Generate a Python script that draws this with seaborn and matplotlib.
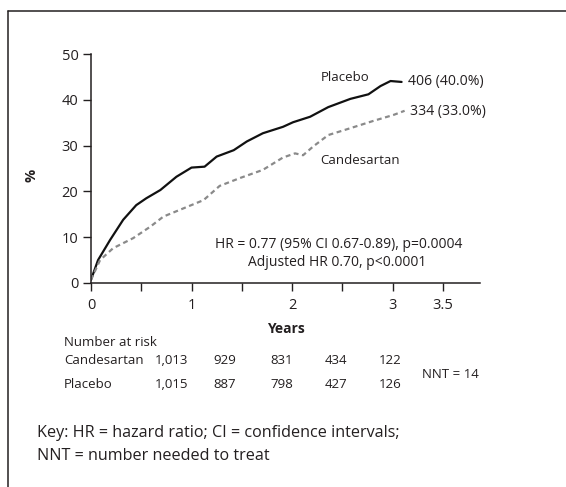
import pandas as pd
import matplotlib
matplotlib.use('Agg')
import matplotlib.pyplot as plt
import seaborn as sns

# Kaplan-Meier style cumulative incidence curves
placebo_years = [0.0, 0.07, 0.19, 0.32, 0.45, 0.55, 0.69, 0.85, 1.0, 1.13, 1.25, 1.42, 1.55,
                 1.71, 1.91, 2.01, 2.18, 2.36, 2.58, 2.76, 2.88, 2.98, 3.09]
placebo_pct = [0.7, 5.0, 9.4, 13.8, 17.0, 18.5, 20.3, 23.2, 25.2, 25.4, 27.6, 29.0, 30.9,
               32.7, 34.1, 35.1, 36.3, 38.4, 40.2, 41.2, 43.0, 44.1, 43.9]
cand_years = [0.0, 0.09, 0.22, 0.42, 0.59, 0.72, 0.92, 1.12, 1.28, 1.48, 1.71, 1.91, 2.03,
              2.11, 2.21, 2.36, 2.58, 2.81, 3.01, 3.12]
cand_pct = [0.7, 5.0, 7.6, 9.8, 12.3, 14.5, 16.3, 18.1, 21.2, 22.9, 24.7, 27.4, 28.3,
            27.9, 29.8, 32.3, 33.8, 35.4, 36.7, 37.6]

# Number at risk table
risk_groups = ['Candesartan', 'Placebo']
risk_cand = ['1,013', '929', '831', '434', '122']
risk_plac = ['1,015', '887', '798', '427', '126']

x_ticks = [0, 1, 2, 3, 3.5]
x_minor = [0.5, 1.5, 2.5]
y_ticks = [0, 10, 20, 30, 40, 50]

df = pd.concat([
    pd.DataFrame({'years': placebo_years, 'pct': placebo_pct, 'group': 'Placebo'}),
    pd.DataFrame({'years': cand_years, 'pct': cand_pct, 'group': 'Candesartan'}),
])

sns.set_style('ticks')
plt.rcParams['font.family'] = ['Open Sans', 'DejaVu Sans']
txt = '#231f20'

W, H = 566, 487
fig = plt.figure(figsize=(W / 100, H / 100), dpi=100)

def fx(x):
    return x / W

def fy(y):
    return 1 - y / H

ax = fig.add_axes([fx(91), fy(283), fx(480) - fx(91), fy(54) - fy(283)])
sns.lineplot(data=df, x='years', y='pct', hue='group', style='group',
             palette={'Placebo': '#111111', 'Candesartan': '#8a8a8a'},
             dashes={'Placebo': '', 'Candesartan': (2.2, 1.6)},
             linewidth=1.6, estimator=None, sort=False, legend=False, ax=ax)

ax.set_xlim(0, 3.87)
ax.set_ylim(0, 50)
ax.set_xticks(x_ticks)
ax.set_xticklabels(['0', '1', '2', '3', '3.5'])
ax.set_xticks(x_minor, minor=True)
ax.set_yticks(y_ticks)
ax.tick_params(axis='both', which='both', direction='out', length=6, width=1,
               color=txt, labelsize=10.5, labelcolor=txt, pad=3)
ax.tick_params(axis='x', pad=5)
sns.despine(ax=ax)
for s in ['left', 'bottom']:
    ax.spines[s].set_linewidth(1.1)
    ax.spines[s].set_color(txt)
ax.set_xlabel('Years', fontsize=10, fontweight='bold', color=txt, labelpad=6)
ax.set_ylabel('')
fig.text(fx(32), fy(175), '%', rotation=90, fontsize=10.5, fontweight='bold',
         color=txt, ha='center', va='center')

# curve annotations
fig.text(fx(345), fy(77), 'Placebo', fontsize=9.5, color=txt, ha='center', va='center')
fig.text(fx(408), fy(81), '406 (40.0%)', fontsize=10.1, color=txt, ha='left', va='center')
fig.text(fx(410), fy(112), '334 (33.0%)', fontsize=10.1, color=txt, ha='left', va='center')
fig.text(fx(360), fy(161), 'Candesartan', fontsize=9.5, color=txt, ha='center', va='center')
fig.text(fx(339), fy(244), 'HR = 0.77 (95% CI 0.67-0.89), p=0.0004', fontsize=10,
         color=txt, ha='center', va='center')
fig.text(fx(337), fy(262), 'Adjusted HR 0.70, p<0.0001', fontsize=10,
         color=txt, ha='center', va='center')

# number at risk
fig.text(fx(64), fy(343), 'Number at risk', fontsize=9.5, color=txt, ha='left', va='center')
col_right = [188, 236, 293, 347, 402]
for row_y, name, vals in [(361, risk_groups[0], risk_cand), (384, risk_groups[1], risk_plac)]:
    fig.text(fx(64), fy(row_y), name, fontsize=9.5, color=txt, ha='left', va='center')
    for xr, v in zip(col_right, vals):
        fig.text(fx(xr), fy(row_y), v, fontsize=9.5, color=txt, ha='right', va='center')
fig.text(fx(422), fy(374), 'NNT = 14', fontsize=9.5, color=txt, ha='left', va='center')

fig.text(fx(37), fy(433), 'Key: HR = hazard ratio; CI = confidence intervals;',
         fontsize=11.6, color=txt, ha='left', va='center')
fig.text(fx(37), fy(456), 'NNT = number needed to treat',
         fontsize=11.6, color=txt, ha='left', va='center')

# frame lines (top and left only)
fig.add_artist(plt.Line2D([fx(7.5), 1], [fy(10.5), fy(10.5)], color=txt, lw=1.1))
fig.add_artist(plt.Line2D([fx(7.5), fx(7.5)], [fy(10.5), 0], color=txt, lw=1.1))

fig.savefig('out.png', dpi=100)
